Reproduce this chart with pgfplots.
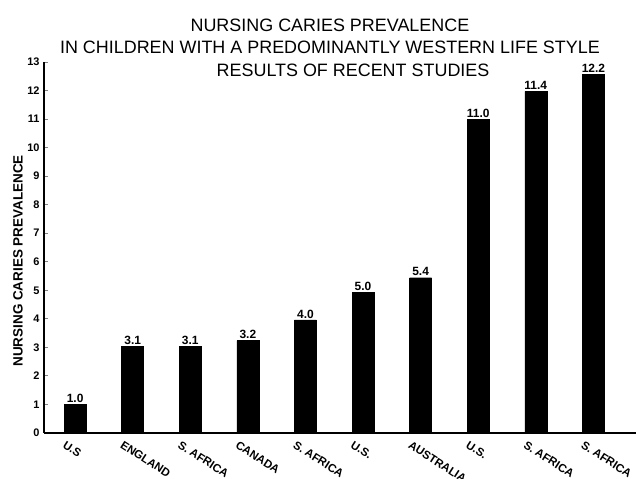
\documentclass[border=0pt]{standalone}
\usepackage{pgfplots}
\pgfplotsset{compat=1.18}
\usepackage{pgfplotstable}
\usepackage{fontspec}
\setmainfont{Liberation Sans}
\pgfplotstableread{
x y lab
0 1.0 1.0
1 3.03 3.1
2 3.03 3.1
3 3.24 3.2
4 3.96 4.0
5 4.93 5.0
6 5.44 5.4
7 10.98 11.0
8 11.97 11.4
9 12.56 12.2
}\datatable
\begin{document}
\begin{tikzpicture}
\begin{axis}[
  at={(0,0)}, anchor=south west,
  scale only axis, width=592bp, height=371bp,
  xmin=-0.54, xmax=9.74, ymin=0, ymax=13,
  enlargelimits=false,
  axis lines*=left,
  axis line style={line width=1.2pt},
  ytick={0,1,...,13},
  tick align=inside,
  major tick length=4bp,
  ytick style={line width=0.9pt},
  yticklabel style={font=\bfseries\fontsize{11}{12}\selectfont, xshift=-1bp},
  /pgf/number format/assume math mode=true,
  xtick={0,...,9},
  xticklabels={U.S,ENGLAND,S. AFRICA,CANADA,S. AFRICA,U.S.,AUSTRALIA,U.S.,S. AFRICA,S. AFRICA},
  xtick style={draw=none},
  xticklabel style={font=\bfseries\fontsize{11.5}{12}\selectfont, rotate=-33, anchor=north west, xshift=-9bp, yshift=-4bp},
  ybar, bar width=22bp,
  nodes near coords,
  point meta=explicit symbolic,
  nodes near coords style={font=\bfseries\fontsize{12}{13}\selectfont, inner sep=1.5bp},
  clip=false,
]
\addplot[fill=black, draw=black] table[x=x, y=y, meta=lab] {\datatable};
\node[anchor=base, font=\fontsize{18}{19}\selectfont] at (rel axis cs:0.483,1.081) {NURSING CARIES PREVALENCE};
\node[anchor=base, font=\fontsize{18}{19}\selectfont] at (rel axis cs:0.483,1.024) {IN CHILDREN WITH A PREDOMINANTLY WESTERN LIFE STYLE};
\node[anchor=base, font=\fontsize{18}{19}\selectfont] at (rel axis cs:0.522,0.960) {RESULTS OF RECENT STUDIES};
\node[rotate=90, font=\bfseries\fontsize{13.5}{14}\selectfont] at (rel axis cs:-0.044,0.464) {NURSING CARIES PREVALENCE};
\end{axis}
\pgfresetboundingbox
\path[use as bounding box] (-44bp,-46bp) rectangle (592bp,433bp);
\end{tikzpicture}
\end{document}
